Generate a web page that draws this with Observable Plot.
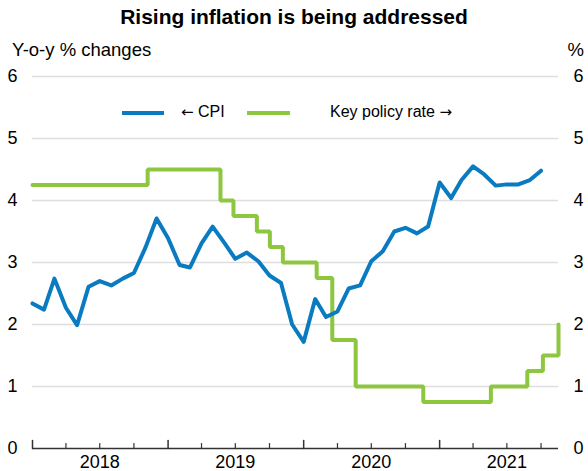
<!DOCTYPE html>
<html><head><meta charset="utf-8">
<script src="https://cdn.jsdelivr.net/npm/d3@7"></script>
<script src="https://cdn.jsdelivr.net/npm/@observablehq/plot@0.6"></script>
<style>
body{margin:0;background:#fff;}
#chart{position:relative;width:588px;height:471px;font-family:Arial,"Liberation Sans",sans-serif;color:#000;}
#title{position:absolute;top:5px;left:0;width:588px;text-align:center;font-weight:bold;font-size:21px;}
#sub{position:absolute;top:39px;left:12px;font-size:18.5px;}
#pct{position:absolute;top:39px;right:4px;font-size:18.5px;}
#plot{position:absolute;top:60px;left:0;}
.leg{position:absolute;font-size:16px;white-space:nowrap;}
.arr{font-family:"DejaVu Sans",sans-serif;font-size:15px;}
.sw{position:absolute;height:4px;}
</style></head>
<body><div id="chart">
<div id="title">Rising inflation is being addressed</div>
<div id="sub">Y-o-y % changes</div>
<div id="pct">%</div>
<div id="plot"></div>
<div class="sw" style="left:122px;top:111px;width:42px;background:#0a7bc1"></div>
<div class="leg" style="left:181px;top:103px"><span class="arr">←</span> CPI</div>
<div class="sw" style="left:247px;top:111px;width:43px;background:#8dc63f"></div>
<div class="leg" style="left:330px;top:103px">Key policy rate <span class="arr">→</span></div>
</div>
<script>
// CPI, y-o-y % change, monthly from Jan 2018
const cpiStart = "2018-01-01";
const cpiValues = [
  2.34, 2.24, 2.74, 2.27, 1.99, 2.61, 2.70, 2.63, 2.74, 2.83, 3.24, 3.71,
  3.39, 2.96, 2.92, 3.31, 3.58, 3.32, 3.06, 3.16, 3.02, 2.79, 2.67, 2.00,
  1.72, 2.41, 2.12, 2.21, 2.58, 2.63, 3.02, 3.18, 3.50, 3.56, 3.47, 3.58,
  4.29, 4.04, 4.33, 4.55, 4.42, 4.24, 4.26, 4.26, 4.33, 4.48
];
// Key policy rate, effective dates of changes
const rateDates = ["2018-01-01","2018-11-07","2019-05-22","2019-06-26","2019-08-28","2019-10-02","2019-11-06","2020-02-05","2020-03-18","2020-05-20","2020-11-18","2021-05-19","2021-08-25","2021-10-06","2021-11-17"];
const rateValues = [4.25, 4.5, 4.0, 3.75, 3.5, 3.25, 3.0, 2.75, 1.75, 1.0, 0.75, 1.0, 1.25, 1.5, 2.0];
const xDomain = ["2018-01-01", "2021-11-17"];
const yTicks = [0, 1, 2, 3, 4, 5, 6];
const yearLabels = [2018, 2019, 2020, 2021];

const parse = d3.utcParse("%Y-%m-%d");
const t0 = parse(cpiStart);
const cpi = cpiValues.map((v, i) => ({date: d3.utcMonth.offset(t0, i), value: v}));
const rate = rateDates.map((d, i) => ({date: parse(d), value: rateValues[i]}));
const dom = xDomain.map(parse);
const majorTicks = yearLabels.map(y => new Date(Date.UTC(y, 0, 1)));
const minorTicks = d3.utcMonth.every(3).range(dom[0], dom[1]).filter(d => d.getUTCMonth() !== 0);
const labelDates = yearLabels.map(y => new Date(Date.UTC(y, 6, 1)));
const tickShape = {draw(ctx, l) { ctx.moveTo(0, 0); ctx.lineTo(0, -l); }};

const chart = Plot.plot({
  width: 588, height: 411,
  marginTop: 16, marginBottom: 23, marginLeft: 32, marginRight: 30,
  style: {fontFamily: 'Arial, "Liberation Sans", sans-serif', fontSize: "18px", color: "#000", background: "transparent"},
  x: {type: "utc", domain: dom, ticks: labelDates, tickFormat: d3.utcFormat("%Y"), tickSize: 0, tickPadding: 7, label: null},
  y: {domain: [0, 6], ticks: yTicks, tickFormat: d => String(d), axis: "both", tickSize: 0, tickPadding: 15, label: null},
  marks: [
    Plot.ruleY(yTicks.filter(d => d > 0), {stroke: "#dedede", strokeWidth: 1.5}),
    Plot.line(rate, {x: "date", y: "value", curve: "step-after", stroke: "#8dc63f", strokeWidth: 4, strokeLinejoin: "miter"}),
    Plot.line(cpi, {x: "date", y: "value", stroke: "#0a7bc1", strokeWidth: 4, strokeLinejoin: "round"}),
    Plot.ruleY([0], {stroke: "#333", strokeWidth: 1.5}),
    Plot.vector(majorTicks, {x: d => d, y: 0, length: 8, anchor: "start", shape: tickShape, stroke: "#333", strokeWidth: 1.5}),
    Plot.vector(minorTicks, {x: d => d, y: 0, length: 5, anchor: "start", shape: tickShape, stroke: "#333", strokeWidth: 1.2})
  ]
});
document.getElementById("plot").appendChild(chart);
</script>
</body></html>
